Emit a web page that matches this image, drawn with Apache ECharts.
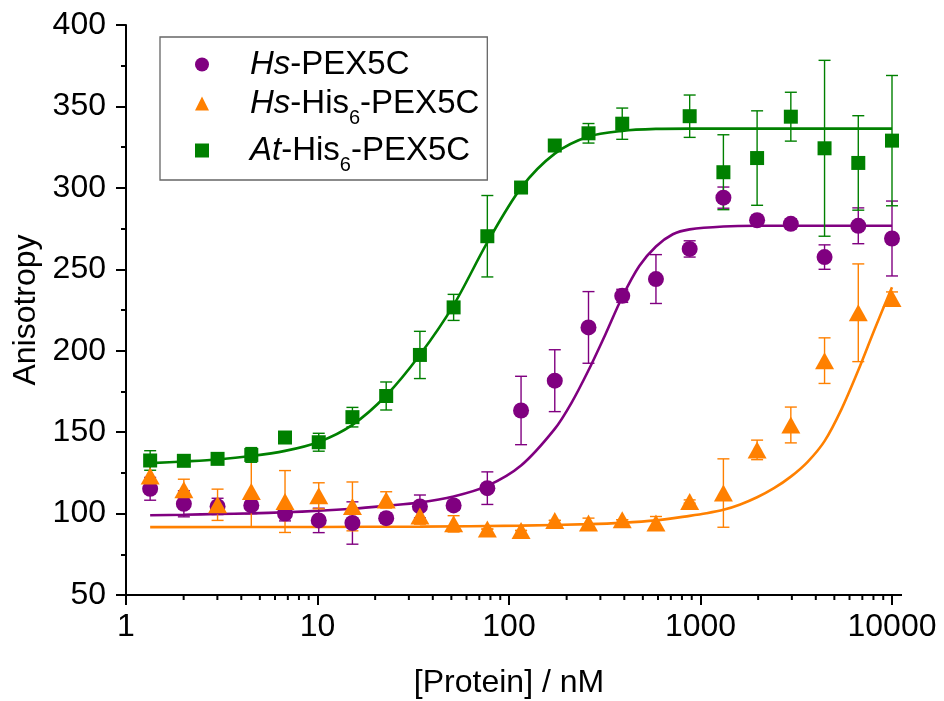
<!DOCTYPE html>
<html><head><meta charset="utf-8">
<script src="https://cdn.jsdelivr.net/npm/echarts@6/dist/echarts.min.js"></script>
<style>html,body{margin:0;padding:0;background:#fff}#c{width:944px;height:701px}</style>
</head><body><div id="c"></div>
<script>
// ---- data ----
const conc = [1.337, 2.005, 3.007, 4.511, 6.767, 10.15, 15.22, 22.84, 34.26, 51.38, 77.07, 115.6, 173.4, 260.1, 390.2, 585.3, 877.9, 1317, 1975, 2963, 4444, 6667, 10000];

const hsPexY   = [115.2, 106, 104.4, 105, 100, 95.8, 94.2, 97.2, 104.4, 105, 115.6, 163.3, 181.6, 214.3, 233.7, 244, 262.5, 294, 280.1, 277.9, 257.5, 276.7, 268.9];
const hsPexErr = [7, 8, 5, 5, 4.5, 7.5, 13, 3, 7, 3, 10, 21, 19, 22, 4, 15, 5, 6.5, 3, 3, 7.5, 11, 23];

const hsHisY   = [123, 114.6, 105.4, 113.6, 107.4, 110.9, 104.4, 108.4, 98.5, 93.7, 90.5, 89.6, 95.8, 94.2, 96.2, 94.2, 107.4, 112.6, 139.1, 154.4, 193.9, 223.3, 232.1];
const hsHisErr = [6, 6.5, 9.6, 22, 19, 8, 15, 5, 5, 5, 0, 0, 0, 3, 0, 4, 1, 21, 6, 11, 14, 30, 4];

const atHisY   = [132.6, 132.4, 133.6, 136, 146.7, 143.8, 159.2, 172.2, 197.4, 226.6, 270.3, 300.2, 326, 333.5, 339.4, null, 344, 309.6, 318.3, 343.7, 324.3, 315.3, 329];
const atHisErr = [6, 2, 2, 4.5, 2, 5.5, 6, 8.6, 14.5, 8, 25, 2, 3, 6, 9.6, null, 13, 23, 29, 15, 54, 29, 40];

// fitted curves
const fitHsPexX = [1.337, 2.005, 3.007, 4.511, 6.767, 10.15, 15.22, 22.84, 34.26, 51.38, 77.07, 115.6, 173.4, 212, 260.1, 318.6, 390.2, 479, 585.3, 717, 877.9, 1317, 1975, 10000];
const fitHsPexY = [99, 99.3, 99.7, 100.1, 100.8, 101.7, 103, 104.8, 106.8, 110.5, 117, 129.5, 152, 168, 188, 210, 233, 252, 264, 271.5, 274.5, 276.3, 276.7, 276.7];

const fitHsHisX = [1.337, 10.15, 34.26, 115.6, 260.1, 390.2, 585.3, 877.9, 1075, 1317, 1613, 1975, 2419, 2963, 3628, 4444, 5443, 6667, 8165, 10000];
const fitHsHisY = [91.7, 91.8, 92, 92.6, 93.5, 94.3, 95.8, 98.6, 100.2, 102.3, 105.6, 110, 115.6, 122.7, 131.8, 144.5, 164, 188, 214, 239];

const fitAtHisX = [1.337, 2.005, 3.007, 4.511, 6.767, 10.15, 15.22, 22.84, 34.26, 51.38, 77.07, 115.6, 173.4, 260.1, 390.2, 585.3, 877.9, 10000];
const fitAtHisY = [131, 132, 133.2, 135.3, 138.5, 144, 154.5, 172.5, 197.5, 228, 266.5, 300, 321, 331.5, 335, 336.2, 336.4, 336.4];

const xMinorTicks = [2,3,4,5,6,7,8,9,20,30,40,50,60,70,80,90,200,300,400,500,600,700,800,900,2000,3000,4000,5000,6000,7000,8000,9000];

const seriesNames = ['Hs-PEX5C', 'Hs-His6-PEX5C', 'At-His6-PEX5C'];
const legendRich = {
  'Hs-PEX5C': '{sp| }{i|Hs}{n|-PEX5C}',
  'Hs-His6-PEX5C': '{sp| }{i|Hs}{n|-His}{s|6}{n|-PEX5C}',
  'At-His6-PEX5C': '{sp| }{i|At}{n|-His}{s|6}{n|-PEX5C}'
};

const xMin = 1, xMax = 10000, yMin = 50, yMax = 400, yStep = 50;

// ---- styling ----
const FONT = 'Liberation Sans';
const PURPLE = '#800080', ORANGE = '#FF8000', GREEN = '#008000';

function pts(xs, ys) { const o = []; for (let i = 0; i < xs.length; i++) if (ys[i] != null) o.push([xs[i], ys[i]]); return o; }
function errPts(xs, ys, es) { const o = []; for (let i = 0; i < xs.length; i++) if (ys[i] != null) o.push([xs[i], ys[i], es[i]]); return o; }

function errRender(color) {
  return function (params, api) {
    const x = api.value(0), y = api.value(1), e = api.value(2);
    const t = api.coord([x, y + e]), b = api.coord([x, y - e]);
    const hw = 6, st = { stroke: color, lineWidth: 1.4 };
    return { type: 'group', children: [
      { type: 'line', shape: { x1: t[0], y1: t[1], x2: b[0], y2: b[1] }, style: st },
      { type: 'line', shape: { x1: t[0] - hw, y1: t[1], x2: t[0] + hw, y2: t[1] }, style: st },
      { type: 'line', shape: { x1: b[0] - hw, y1: b[1], x2: b[0] + hw, y2: b[1] }, style: st }
    ]};
  };
}

function minorRender(params, api) {
  const p = api.coord([api.value(0), yMin]);
  const children = [{ type: 'line', shape: { x1: p[0], y1: p[1], x2: p[0], y2: p[1] + 5 }, style: { stroke: '#000', lineWidth: 2 } }];
  if (params.dataIndex === 0) {
    const e = api.coord([xMax, yMin]);
    children.push({ type: 'line', shape: { x1: e[0], y1: e[1], x2: e[0] + 10, y2: e[1] }, style: { stroke: '#000', lineWidth: 2 } });
  }
  return { type: 'group', children };
}

function fitLine(name, xs, ys, color) {
  return { name: name, type: 'line', data: pts(xs, ys), showSymbol: false, symbol: 'none', smooth: 0.3,
    lineStyle: { color: color, width: 2.6 }, z: 2, silent: true };
}
function errSeries(name, xs, ys, es, color) {
  return { name: name, type: 'custom', data: errPts(xs, ys, es), renderItem: errRender(color), z: 3, silent: true, clip: false };
}
function scatter(name, xs, ys, color, symbol, size) {
  return { name: name, type: 'scatter', data: pts(xs, ys), symbol: symbol, symbolSize: size, itemStyle: { color: color, opacity: 1 }, z: 4 };
}

const chart = echarts.init(document.getElementById('c'), null, { renderer: 'canvas' });
chart.setOption({
  animation: false,
  backgroundColor: '#fff',
  grid: { left: 126, right: 52, top: 25, bottom: 106, containLabel: false, outerBoundsMode: 'none' },
  xAxis: {
    type: 'log', logBase: 10, min: xMin, max: xMax,
    name: '[Protein] / nM', nameLocation: 'middle', nameGap: 72,
    nameTextStyle: { fontFamily: FONT, fontSize: 32, color: '#000' },
    axisLine: { onZero: false, lineStyle: { color: '#000', width: 2 } },
    axisTick: { inside: false, length: 10, lineStyle: { color: '#000', width: 2 } },
    axisLabel: { fontFamily: FONT, fontSize: 32, color: '#000', margin: 16, formatter: function (v) { return String(Math.round(v)); } },
    splitLine: { show: false }
  },
  yAxis: {
    type: 'value', min: yMin, max: yMax, interval: yStep,
    name: 'Anisotropy', nameLocation: 'middle', nameGap: 66, nameRotate: 90,
    nameTextStyle: { fontFamily: FONT, fontSize: 32, color: '#000' },
    axisLine: { onZero: false, lineStyle: { color: '#000', width: 2 } },
    axisTick: { inside: false, length: 10, lineStyle: { color: '#000', width: 2 } },
    minorTick: { show: true, splitNumber: 2, length: 5, lineStyle: { color: '#000', width: 2 } },
    axisLabel: { fontFamily: FONT, fontSize: 32, color: '#000', margin: 20 },
    splitLine: { show: false }
  },
  legend: {
    data: seriesNames, orient: 'vertical', left: 160, top: 37,
    padding: [11, 8, 5, 35], itemGap: -2, itemWidth: 14, itemHeight: 14,
    borderColor: '#666', borderWidth: 1.3, selectedMode: false,
    formatter: function (n) { return legendRich[n]; },
    textStyle: { fontFamily: FONT, fontSize: 33, color: '#000',
      rich: {
        sp: { width: 36, fontSize: 33, lineHeight: 40 },
        i: { fontFamily: FONT, fontSize: 33, fontStyle: 'italic', lineHeight: 40, color: '#000' },
        n: { fontFamily: FONT, fontSize: 33, lineHeight: 40, color: '#000' },
        s: { fontFamily: FONT, fontSize: 20, lineHeight: 20, padding: [29, 0, 0, 0], color: '#000' }
      } }
  },
  series: [
    { name: 'minor', type: 'custom', data: xMinorTicks.map(v => [v, yMin]), renderItem: minorRender, silent: true, clip: false, z: 5 },
    fitLine('fit1', fitHsPexX, fitHsPexY, PURPLE),
    errSeries('err1', conc, hsPexY, hsPexErr, PURPLE),
    scatter(seriesNames[0], conc, hsPexY, PURPLE, 'circle', 16),
    fitLine('fit2', fitHsHisX, fitHsHisY, ORANGE),
    errSeries('err2', conc, hsHisY, hsHisErr, ORANGE),
    scatter(seriesNames[1], conc, hsHisY, ORANGE, 'triangle', [19, 17]),
    fitLine('fit3', fitAtHisX, fitAtHisY, GREEN),
    errSeries('err3', conc, atHisY, atHisErr, GREEN),
    scatter(seriesNames[2], conc, atHisY, GREEN, 'rect', 14)
  ]
});
</script>
</body></html>
